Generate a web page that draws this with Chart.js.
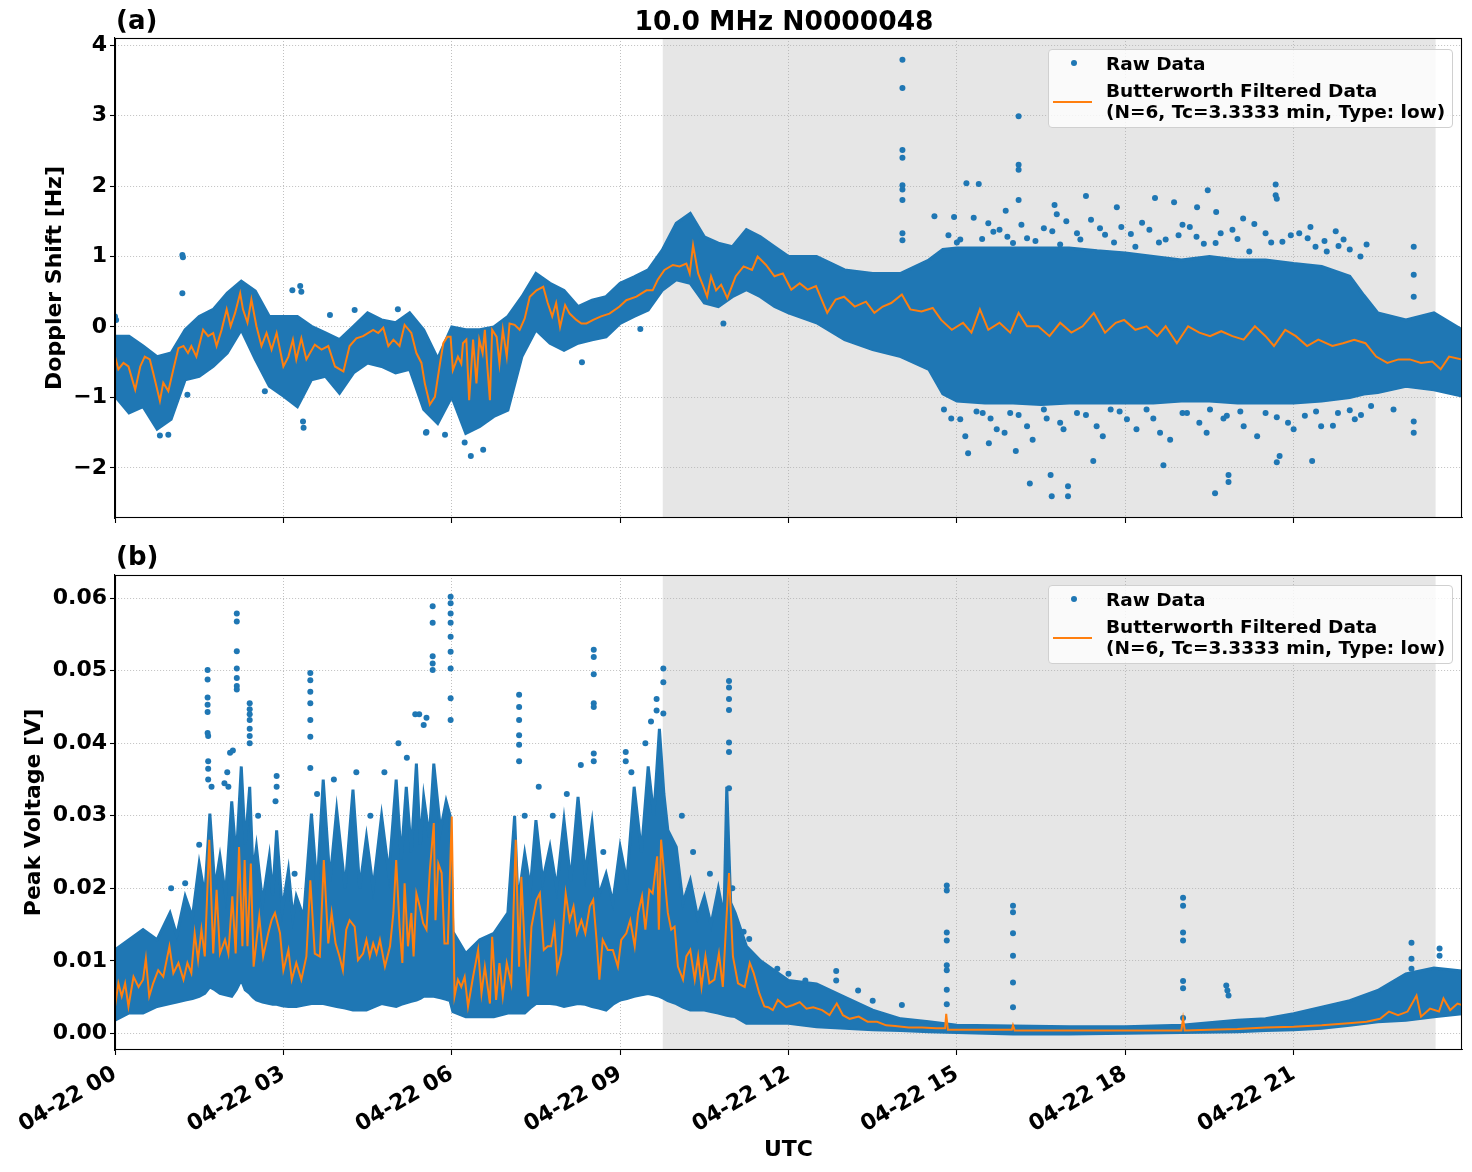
<!DOCTYPE html>
<html><head><meta charset="utf-8">
<script src="https://cdn.jsdelivr.net/npm/chart.js@4.4.1/dist/chart.umd.min.js"></script>
<style>
body{margin:0;background:#fff;width:1472px;height:1172px;position:relative;overflow:hidden;font-family:"DejaVu Sans",sans-serif;}
canvas{position:absolute;left:0;}
.txt{position:absolute;font-weight:bold;white-space:nowrap;color:#000;}
.legend{position:absolute;box-sizing:border-box;border:1px solid #d0d0d0;border-radius:4px;background:rgba(255,255,255,0.8);width:405px;height:79px;left:1048px;}
.legend .lt{position:absolute;left:57px;font-weight:bold;font-size:18.5px;line-height:21px;white-space:nowrap;color:#000;}
.legend .dot{position:absolute;left:22px;top:10px;width:6px;height:6px;border-radius:50%;background:#1f77b4;}
.legend .ln{position:absolute;left:4px;top:51px;width:39px;height:2px;background:#ff7f0e;}
</style></head>
<body>
<canvas id="c1" width="1472" height="540" style="top:0"></canvas>
<canvas id="c2" width="1472" height="632" style="top:540px"></canvas>
<div class="txt" style="left:116px;top:5px;font-size:26px;line-height:31px;">(a)</div>
<div class="txt" style="left:0;width:1568px;text-align:center;top:5px;font-size:26.5px;line-height:31px;">10.0 MHz N0000048</div>
<div class="txt" style="left:116px;top:541px;font-size:26px;line-height:31px;">(b)</div>
<div class="legend" style="top:49px"><div class="dot"></div><div class="lt" style="top:3px">Raw Data</div><div class="ln"></div><div class="lt" style="top:30px">Butterworth Filtered Data<br>(N=6, Tc=3.3333 min, Type: low)</div></div>
<div class="legend" style="top:585px"><div class="dot"></div><div class="lt" style="top:3px">Raw Data</div><div class="ln"></div><div class="lt" style="top:30px">Butterworth Filtered Data<br>(N=6, Tc=3.3333 min, Type: low)</div></div>
<script>
// ---- axis / ticks ----
const xTickVals = [0, 3, 6, 9, 12, 15, 18, 21];
const xTickLabels = ['04-22 00', '04-22 03', '04-22 06', '04-22 09', '04-22 12', '04-22 15', '04-22 18', '04-22 21'];
const dopYTicks = [-2, -1, 0, 1, 2, 3, 4];
const volYTicks = [0, 0.01, 0.02, 0.03, 0.04, 0.05, 0.06];
const shadeStart = 9.76, shadeEnd = 23.53; // hours UTC (shaded interval)

// ---- (a) Doppler shift: dense raw-data envelope (hours, Hz) ----
const dopEnvT = [0,0.25,0.5,0.75,1.0,1.25,1.5,1.75,2.0,2.25,2.5,2.75,3.0,3.25,3.5,3.75,4.0,4.25,4.5,4.75,5.0,5.25,5.5,5.75,6.0,6.25,6.5,6.75,7.0,7.25,7.5,7.75,8.0,8.25,8.5,8.75,9.0,9.25,9.5,9.75,10.0,10.25,10.5,10.75,11.0,11.25,11.5,11.75,12.0,12.5,13.0,13.5,14.0,14.5,14.75,15.0,15.5,16.0,16.5,17.0,17.5,18.0,18.5,19.0,19.5,20.0,20.5,21.0,21.5,22.0,22.25,22.5,23.0,23.5,24.0];
const dopEnvHigh = [-0.13,-0.13,-0.27,-0.42,-0.37,-0.04,0.15,0.25,0.48,0.65,0.51,0.15,0.15,0.15,0.01,-0.085,-0.18,0.01,0.2,0.1,0.06,0.2,-0.04,-0.45,0.0,-0.04,-0.04,0.0,0.15,0.43,0.76,0.62,0.52,0.29,0.38,0.43,0.62,0.71,0.81,1.09,1.47,1.61,1.28,1.19,1.14,1.38,1.28,1.14,1.0,1.0,0.81,0.76,0.76,0.95,1.1,1.12,1.12,1.12,1.12,1.12,1.08,1.05,1.0,0.95,1.0,0.95,0.95,0.9,0.86,0.72,0.45,0.2,0.1,0.2,-0.04];
const dopEnvLow = [-0.98,-1.22,-1.13,-1.45,-1.31,-0.75,-0.7,-0.56,-0.37,-0.04,-0.46,-0.84,-0.98,-1.13,-0.75,-0.7,-0.94,-0.65,-0.51,-0.56,-0.65,-0.6,-1.17,-1.37,-0.99,-1.51,-1.41,-1.27,-1.18,-0.42,-0.04,-0.23,-0.33,-0.23,-0.18,-0.14,0.05,0.15,0.24,0.52,0.67,0.62,0.34,0.29,0.43,0.53,0.43,0.29,0.2,0.06,-0.18,-0.32,-0.42,-0.6,-0.95,-1.05,-1.08,-1.08,-1.1,-1.08,-1.08,-1.08,-1.08,-1.05,-1.05,-1.08,-1.08,-1.08,-1.05,-1.0,-0.95,-0.93,-0.84,-0.89,-0.98];
// isolated raw points outside the dense band
const dopPtsT = [1.2,1.21,1.2,3.3,3.32,3.16,0.8,0.95,3.35,3.36,5.55,2.67,1.29,3.83,4.27,5.04,5.54,5.88,6.23,6.34,6.56,8.32,9.36,10.84,0.0,0.02,
 14.03,14.03,14.03,14.03,14.03,14.03,14.03,14.03,14.03,16.1,16.1,16.1,16.1,20.68,20.68,19.47,15.17,15.39,16.74,17.3,
 14.6,14.95,15.87,16.78,17.85,18.53,18.87,19.28,19.62,20.1,21.3,21.75,22.3,20.7,23.14,23.14,23.14,
 16.69,16.98,16.98,16.3,16.67,19.6,19.84,19.84,17.43,15.2,21.33,20.7,20.75,18.68,23.14,23.14,16.05,15.57,
 15.06,15.56,15.76,16.0,16.25,16.55,16.84,17.14,17.39,17.64,17.93,18.18,18.43,18.72,19.02,19.27,19.61,19.91,20.21,20.5,20.8,21.1,21.39,21.59,21.89,22.19,
 14.77,15.06,15.46,15.71,15.95,16.25,16.55,16.84,17.14,17.49,17.74,18.03,18.38,18.62,19.02,19.32,19.51,19.81,20.11,20.5,20.9,21.2,21.49,21.79,22.09,22.38,22.78,
 14.85,15.0,15.3,15.45,15.65,15.9,16.15,16.4,16.7,16.95,17.2,17.55,17.8,18.1,18.3,18.6,18.95,19.15,19.4,19.7,20.0,20.3,20.6,20.95,21.25,21.55,21.8,22.0,
 14.9,15.15,15.35,15.6,15.85,16.1,16.35,16.6,16.9,17.3,17.6,17.9,18.2,18.5,18.8,19.1,19.45,19.75,20.05,20.35,20.7,21.0,21.4,21.7,22.0,22.2];
const dopPtsV = [1.02,0.99,0.48,0.58,0.5,0.52,-1.54,-1.53,-1.34,-1.43,-1.49,-0.91,-0.96,0.17,0.24,0.25,-1.5,-1.53,-1.64,-1.83,-1.74,-0.5,-0.03,0.05,0.15,0.1,
 3.79,3.39,2.51,2.4,2.01,1.95,1.8,1.33,1.23,2.99,2.3,2.23,1.8,2.02,1.87,1.94,2.04,2.03,1.73,1.86,
 1.57,1.56,1.65,1.6,1.7,1.83,1.77,1.7,1.63,1.54,1.42,1.36,1.17,1.82,1.14,0.74,0.43,
 -2.4,-2.4,-2.26,-2.22,-2.1,-2.36,-2.1,-2.2,-1.9,-1.79,-1.9,-1.92,-1.83,-1.96,-1.5,-1.34,-1.76,-1.65,
 1.24,1.47,1.38,1.19,1.26,1.4,1.17,1.33,1.52,1.31,1.42,1.14,1.38,1.24,1.45,1.28,1.19,1.38,1.07,1.33,1.21,1.33,1.14,1.07,1.24,1.0,
 -1.17,-1.31,-1.22,-1.45,-1.22,-1.41,-1.17,-1.36,-1.22,-1.41,-1.17,-1.31,-1.17,-1.5,-1.22,-1.36,-1.17,-1.26,-1.41,-1.22,-1.36,-1.26,-1.41,-1.22,-1.31,-1.12,-1.17,
 1.3,1.2,1.55,1.25,1.35,1.28,1.45,1.22,1.36,1.5,1.24,1.4,1.2,1.32,1.48,1.2,1.3,1.42,1.18,1.33,1.25,1.46,1.2,1.3,1.26,1.22,1.15,1.1,
 -1.3,-1.55,-1.2,-1.3,-1.5,-1.25,-1.6,-1.3,-1.45,-1.25,-1.55,-1.2,-1.45,-1.3,-1.6,-1.22,-1.5,-1.3,-1.2,-1.55,-1.28,-1.45,-1.2,-1.4,-1.18,-1.25];
// Butterworth filtered Doppler (hours, Hz)
const dopFiltT = [0,0.06,0.15,0.24,0.36,0.45,0.53,0.62,0.68,0.8,0.86,0.95,1.04,1.13,1.22,1.3,1.36,1.45,1.57,1.66,1.75,1.81,1.9,1.99,2.06,2.14,2.23,2.28,2.36,2.43,2.52,2.61,2.7,2.79,2.88,3.0,3.09,3.17,3.23,3.32,3.41,3.56,3.68,3.8,3.92,4.07,4.18,4.3,4.42,4.6,4.69,4.78,4.87,4.96,5.07,5.16,5.28,5.37,5.46,5.52,5.61,5.7,5.79,5.85,5.92,5.98,6.02,6.11,6.17,6.2,6.26,6.31,6.38,6.44,6.49,6.55,6.59,6.63,6.68,6.72,6.8,6.85,6.91,6.98,7.03,7.12,7.21,7.3,7.39,7.51,7.63,7.71,7.79,7.86,7.93,8.02,8.1,8.22,8.31,8.4,8.52,8.66,8.81,8.99,9.11,9.29,9.47,9.58,9.67,9.79,9.94,10.06,10.18,10.24,10.3,10.39,10.47,10.55,10.62,10.71,10.8,10.91,11.06,11.2,11.35,11.45,11.6,11.75,11.9,12.05,12.2,12.34,12.49,12.69,12.84,12.99,13.18,13.38,13.53,13.68,13.83,14.02,14.17,14.37,14.57,14.72,14.91,15.11,15.26,15.41,15.56,15.76,15.95,16.1,16.25,16.45,16.65,16.84,17.04,17.24,17.44,17.64,17.83,17.98,18.18,18.38,18.57,18.72,18.92,19.12,19.32,19.51,19.71,19.91,20.11,20.31,20.5,20.65,20.85,21.04,21.24,21.44,21.69,21.88,22.08,22.28,22.47,22.67,22.87,23.07,23.27,23.47,23.62,23.77,24.0];
const dopFiltV = [-0.42,-0.6,-0.51,-0.56,-0.89,-0.56,-0.42,-0.46,-0.65,-1.05,-0.79,-0.91,-0.6,-0.3,-0.27,-0.37,-0.27,-0.42,-0.04,-0.13,-0.085,-0.27,-0.04,0.25,0.01,0.2,0.48,0.25,0.06,0.39,0.01,-0.27,-0.085,-0.32,-0.085,-0.56,-0.42,-0.18,-0.46,-0.16,-0.46,-0.25,-0.32,-0.27,-0.56,-0.63,-0.27,-0.16,-0.13,-0.04,-0.085,-0.01,-0.27,-0.18,-0.27,0.03,-0.085,-0.37,-0.51,-0.8,-1.1,-0.99,-0.52,-0.23,-0.14,-0.14,-0.61,-0.42,-0.52,-0.23,-0.18,-1.04,-0.18,-0.8,-0.18,-0.37,-0.04,-0.52,-1.04,-0.04,-0.14,-0.52,-0.04,-0.42,0.05,0.03,-0.04,0.12,0.43,0.52,0.57,0.34,0.15,0.34,0.0,0.31,0.19,0.1,0.05,0.05,0.1,0.15,0.19,0.29,0.38,0.43,0.52,0.52,0.67,0.81,0.88,0.86,0.9,0.76,1.16,0.76,0.6,0.43,0.72,0.52,0.6,0.41,0.72,0.86,0.81,1.0,0.88,0.72,0.76,0.53,0.62,0.53,0.58,0.2,0.39,0.43,0.29,0.36,0.2,0.29,0.34,0.46,0.25,0.22,0.27,0.1,-0.04,0.06,-0.08,0.25,-0.04,0.06,-0.08,0.2,0.01,0.01,-0.13,0.06,-0.08,0.01,0.2,-0.08,0.06,0.1,-0.04,0.01,-0.13,0.01,-0.23,0.01,-0.08,-0.13,-0.06,-0.13,-0.18,0.01,-0.13,-0.27,-0.04,-0.13,-0.27,-0.18,-0.27,-0.23,-0.18,-0.23,-0.42,-0.51,-0.46,-0.46,-0.51,-0.49,-0.6,-0.42,-0.46];

// ---- (b) Peak voltage: dense raw-data envelope (hours, V) ----
const volEnvT = [0,0.25,0.5,0.75,0.98,1.1,1.25,1.38,1.5,1.6,1.69,1.78,1.87,1.97,2.08,2.16,2.25,2.32,2.4,2.46,2.52,2.63,2.75,2.81,2.88,2.98,3.09,3.17,3.23,3.36,3.5,3.6,3.71,3.83,3.95,4.1,4.24,4.36,4.48,4.6,4.75,4.88,5.01,5.1,5.19,5.28,5.37,5.44,5.5,5.6,5.68,5.8,5.9,5.97,6.02,6.25,6.5,6.75,7.0,7.12,7.18,7.3,7.4,7.5,7.62,7.75,7.87,8.0,8.12,8.25,8.38,8.5,8.62,8.75,8.87,9.0,9.12,9.25,9.38,9.5,9.6,9.7,9.78,9.85,10.0,10.12,10.25,10.38,10.5,10.62,10.75,10.85,10.9,10.97,11.05,11.25,11.5,12.0,12.5,13.0,13.5,14.0,14.5,15.0,16.0,17.0,18.0,19.0,20.0,20.5,21.0,21.5,22.0,22.5,23.0,23.5,24.0];
const volEnvHigh = [0.0115,0.0129,0.0143,0.0129,0.0166,0.0135,0.0189,0.016,0.0234,0.019,0.0303,0.020,0.0244,0.019,0.032,0.024,0.0368,0.026,0.034,0.022,0.0257,0.018,0.0244,0.019,0.028,0.017,0.0225,0.016,0.0189,0.016,0.0303,0.020,0.035,0.021,0.0308,0.020,0.0336,0.020,0.0271,0.020,0.030,0.022,0.035,0.024,0.034,0.025,0.0372,0.026,0.0326,0.027,0.0372,0.028,0.032,0.030,0.014,0.011,0.0129,0.0138,0.0166,0.030,0.018,0.0248,0.020,0.0294,0.021,0.0257,0.020,0.0294,0.021,0.0326,0.022,0.029,0.019,0.022,0.018,0.0257,0.021,0.034,0.025,0.0368,0.030,0.042,0.033,0.028,0.0257,0.018,0.0211,0.016,0.0189,0.015,0.020,0.016,0.034,0.018,0.0166,0.012,0.010,0.0073,0.0068,0.005,0.0032,0.002,0.0016,0.0011,0.001,0.0009,0.0009,0.0011,0.0018,0.002,0.0027,0.0036,0.0045,0.0059,0.0082,0.009,0.0086];
const volEnvLow = [0.0018,0.0028,0.0028,0.0037,0.0041,0.0043,0.0046,0.0048,0.0051,0.0055,0.0064,0.006,0.0055,0.0053,0.0051,0.006,0.0074,0.006,0.0055,0.005,0.0046,0.0043,0.0041,0.004,0.004,0.0038,0.0037,0.0037,0.0037,0.0039,0.0041,0.0041,0.0041,0.0039,0.0037,0.0035,0.0032,0.0032,0.0032,0.0036,0.0041,0.0039,0.0037,0.004,0.0042,0.0044,0.0046,0.0048,0.0051,0.0051,0.0051,0.0049,0.0047,0.0045,0.003,0.0023,0.0023,0.0023,0.0028,0.0028,0.0028,0.0028,0.0035,0.0041,0.0041,0.0041,0.004,0.0037,0.0039,0.0041,0.004,0.0037,0.0035,0.0032,0.004,0.0046,0.0048,0.0051,0.0053,0.0055,0.0053,0.0051,0.0048,0.0045,0.0041,0.0036,0.0032,0.0032,0.0032,0.003,0.0028,0.0026,0.0025,0.0024,0.0023,0.0014,0.0014,0.0014,0.0009,0.0007,0.0005,0.0004,0.0002,0.0001,-0.0001,-0.0001,0.0,0.0001,0.0002,0.0004,0.0005,0.0007,0.0011,0.0016,0.0018,0.0023,0.0027];
// isolated raw points / streaks above the dense band
const volPtsT = [1.65,1.65,1.65,1.65,1.65,1.65,1.66,1.66,1.66,1.66, 2.17,2.17,2.17,2.17,2.17,2.17,2.17, 2.4,2.4,2.4,2.4,2.4,2.4,2.4, 2.05,2.1,2.0,1.95,
 3.48,3.48,3.48,3.48,3.48,3.48,3.48, 2.88,2.88,2.86, 5.66,5.66,5.66,5.66,5.66, 5.98,5.98,5.98,5.98,5.98,5.98,5.98,5.98,5.98, 5.42,5.5,5.55,
 7.2,7.2,7.2,7.2,7.2,7.2, 8.53,8.53,8.53,8.53,8.53,8.53,8.53, 9.77,9.77,9.77, 9.65,9.65, 9.1,9.1,
 10.94,10.94,10.94,10.94,10.94,10.94,10.94, 14.82,14.82,14.82,14.82,14.82,14.82,14.82,14.82, 16.0,16.0,16.0,16.0,16.0,16.0,
 19.03,19.03,19.03,19.03,19.03,19.03,19.03, 19.8,19.82,19.84, 23.1,23.1,23.1, 23.6,23.6,
 11.8,12.0,12.3,12.85,12.85,13.24,14.02,13.5,11.2,11.3,
 1.0,1.25,1.5,1.72,2.02,2.55,3.2,3.6,3.9,4.3,4.55,4.8,5.05,5.2,5.35,7.3,7.55,7.8,8.05,8.3,8.7,9.2,9.45,9.55,10.1,10.3,10.6,11.0];
const volPtsV = [0.0501,0.0488,0.0463,0.0453,0.0443,0.0414,0.041,0.0375,0.0365,0.035, 0.0579,0.0568,0.0527,0.0503,0.049,0.0479,0.0474, 0.0455,0.0447,0.044,0.0432,0.042,0.041,0.040, 0.0387,0.039,0.036,0.0345,
 0.0497,0.0487,0.0471,0.0455,0.0432,0.0409,0.0366, 0.0355,0.034,0.032, 0.0589,0.0566,0.052,0.051,0.0501, 0.0602,0.0593,0.0579,0.0566,0.0547,0.0526,0.0503,0.0462,0.0432, 0.044,0.0425,0.0435,
 0.0467,0.045,0.0432,0.0411,0.0398,0.0375, 0.0529,0.0519,0.0495,0.0455,0.045,0.0386,0.0375, 0.0503,0.0484,0.0441, 0.0461,0.0445, 0.0388,0.0375,
 0.0486,0.0477,0.0461,0.0446,0.0401,0.0388,0.0338, 0.0204,0.0197,0.0139,0.0128,0.0094,0.0087,0.006,0.004, 0.0176,0.0167,0.0138,0.0107,0.007,0.0036,
 0.0187,0.0176,0.0139,0.0128,0.0072,0.0062,0.0021, 0.0066,0.0059,0.0052, 0.0125,0.0103,0.0089, 0.0117,0.0107,
 0.0089,0.0082,0.0073,0.0086,0.0073,0.0059,0.0039,0.0045,0.014,0.013,
 0.020,0.0207,0.026,0.034,0.034,0.030,0.022,0.033,0.035,0.036,0.030,0.036,0.040,0.038,0.044,0.030,0.034,0.030,0.033,0.037,0.025,0.036,0.040,0.043,0.030,0.025,0.022,0.020];
const volFiltT = [0,0.06,0.12,0.18,0.24,0.33,0.42,0.5,0.55,0.61,0.68,0.77,0.86,0.97,1.04,1.13,1.22,1.29,1.36,1.42,1.48,1.54,1.6,1.68,1.75,1.81,1.87,1.96,2.02,2.09,2.15,2.21,2.27,2.31,2.36,2.42,2.47,2.57,2.64,2.73,2.79,2.85,2.94,3.0,3.09,3.15,3.23,3.32,3.41,3.48,3.56,3.65,3.72,3.8,3.86,3.93,4.0,4.06,4.12,4.18,4.27,4.33,4.42,4.48,4.54,4.6,4.66,4.72,4.81,4.9,4.96,5.01,5.07,5.12,5.16,5.22,5.28,5.32,5.37,5.43,5.49,5.55,5.61,5.68,5.71,5.76,5.82,5.87,5.93,6.0,6.05,6.11,6.17,6.23,6.29,6.38,6.47,6.53,6.59,6.68,6.72,6.79,6.85,6.91,6.98,7.06,7.14,7.2,7.24,7.3,7.36,7.42,7.51,7.57,7.64,7.71,7.77,7.83,7.88,7.95,8.03,8.1,8.17,8.23,8.31,8.38,8.46,8.52,8.58,8.63,8.69,8.78,8.87,8.96,9.02,9.11,9.18,9.26,9.32,9.39,9.45,9.52,9.58,9.66,9.69,9.73,9.79,9.85,9.91,9.97,10.03,10.12,10.18,10.25,10.33,10.39,10.45,10.52,10.59,10.68,10.76,10.83,10.89,10.94,11.01,11.1,11.22,11.31,11.38,11.48,11.57,11.64,11.72,11.81,11.96,12.08,12.2,12.32,12.44,12.6,12.73,12.86,12.97,13.09,13.25,13.41,13.58,13.74,13.9,14.14,14.38,14.63,14.79,14.81,14.84,15.1,15.51,15.98,16.0,16.03,17.0,18.0,19.0,19.03,19.06,19.5,20.0,20.5,21.0,21.5,21.98,22.3,22.54,22.7,22.86,23.03,23.19,23.27,23.43,23.59,23.67,23.79,23.92,24.0];
const volFiltV = [0.0037,0.0069,0.0051,0.0069,0.0037,0.0078,0.0064,0.0074,0.0103,0.0051,0.0069,0.0087,0.0078,0.012,0.0083,0.0097,0.0074,0.0097,0.0083,0.0138,0.0101,0.0143,0.0106,0.0267,0.011,0.0198,0.011,0.0129,0.011,0.0189,0.011,0.0257,0.012,0.0239,0.012,0.0234,0.0092,0.0161,0.0106,0.0138,0.0156,0.0166,0.0138,0.0087,0.0115,0.0074,0.0097,0.0074,0.0106,0.0211,0.011,0.0106,0.0239,0.0124,0.0166,0.0124,0.0106,0.0087,0.0143,0.0156,0.0147,0.0101,0.011,0.0129,0.0106,0.0124,0.011,0.0129,0.0092,0.012,0.0166,0.0239,0.0147,0.0097,0.0207,0.012,0.0166,0.0106,0.0193,0.0175,0.0152,0.0143,0.0225,0.029,0.0156,0.0234,0.0221,0.0124,0.0124,0.0299,0.0051,0.0074,0.0064,0.0078,0.0037,0.0078,0.0115,0.0055,0.0092,0.0041,0.0133,0.0046,0.0097,0.0051,0.0097,0.0069,0.0267,0.0092,0.0216,0.012,0.0051,0.0147,0.0184,0.0193,0.0115,0.012,0.012,0.0147,0.0087,0.011,0.0193,0.0156,0.0175,0.0138,0.0156,0.0138,0.0175,0.0184,0.0129,0.0074,0.0129,0.0115,0.0115,0.0092,0.0129,0.0138,0.0156,0.012,0.0166,0.0189,0.0143,0.0198,0.0193,0.0244,0.0143,0.0267,0.0216,0.0166,0.0143,0.0147,0.0092,0.0074,0.0106,0.0115,0.0074,0.0106,0.0064,0.0106,0.0069,0.0074,0.011,0.0064,0.0152,0.0221,0.0106,0.0069,0.0064,0.0097,0.0083,0.0055,0.0037,0.0036,0.0032,0.0046,0.0036,0.0039,0.0043,0.0034,0.0036,0.0032,0.0025,0.0041,0.0025,0.002,0.0023,0.0016,0.0016,0.0011,0.001,0.0008,0.0008,0.0007,0.0007,0.0027,0.0005,0.0005,0.0005,0.0005,0.0011,0.0004,0.0004,0.0004,0.0004,0.002,0.0004,0.0005,0.0006,0.0008,0.0009,0.0011,0.0014,0.0016,0.002,0.003,0.0025,0.003,0.0052,0.0023,0.0034,0.003,0.0048,0.0032,0.0041,0.0039];

// ---- helpers ----
const BLUE = '#1f77b4', ORANGE = '#ff7f0e';
const zip = (t, v) => t.map((x, i) => ({x: x, y: v[i]}));
const tickFont = {family: '"DejaVu Sans"', size: 22, weight: 'bold'};
const labelFont = {family: '"DejaVu Sans"', size: 22, weight: 'bold'};

const shadePlugin = {
  id: 'shade',
  beforeDraw(chart) {
    const {ctx, chartArea: a, scales: {x}} = chart;
    const x0 = x.getPixelForValue(shadeStart), x1 = x.getPixelForValue(shadeEnd);
    ctx.save();
    ctx.fillStyle = 'rgba(128,128,128,0.2)';
    ctx.fillRect(x0, a.top, x1 - x0, a.bottom - a.top);
    ctx.restore();
  }
};
const framePlugin = {
  id: 'frame',
  afterDraw(chart) {
    const {ctx, chartArea: a} = chart;
    ctx.save();
    ctx.strokeStyle = '#000';
    ctx.lineWidth = 1.1;
    ctx.strokeRect(Math.round(a.left) + 0.5, Math.round(a.top) + 0.5, Math.round(a.right - a.left) - 1, Math.round(a.bottom - a.top) - 1);
    ctx.restore();
  }
};

function gridOpts() {
  return {color: '#b0b0b0', lineWidth: 0.8, tickColor: '#000', tickLength: 5, tickWidth: 1.1, drawTicks: true};
}

function makeChart(canvasId, env, pts, filt, yCfg, showX, padTop) {
  return new Chart(document.getElementById(canvasId), {
    type: 'line',
    data: {
      datasets: [
        {label: 'Butterworth Filtered Data', data: filt, borderColor: ORANGE, borderWidth: 2, pointRadius: 0, fill: false, tension: 0, order: 0},
        {label: 'Raw Data', type: 'scatter', data: pts, backgroundColor: BLUE, borderWidth: 0, pointRadius: 3, order: 1},
        {label: 'Raw Data (upper)', data: env[0], borderColor: BLUE, backgroundColor: BLUE, borderWidth: 3, pointRadius: 0, fill: '+1', tension: 0, order: 2},
        {label: 'Raw Data (lower)', data: env[1], borderColor: BLUE, backgroundColor: BLUE, borderWidth: 3, pointRadius: 0, fill: false, tension: 0, order: 3}
      ]
    },
    options: {
      responsive: false, animation: false, devicePixelRatio: 1,
      layout: {padding: {top: padTop, right: 10, left: 0, bottom: 0}},
      plugins: {legend: {display: false}, tooltip: {enabled: false}, title: {display: false}},
      scales: {
        x: {
          type: 'linear', min: 0, max: 24,
          afterBuildTicks: s => { s.ticks = xTickVals.map(v => ({value: v})); },
          afterFit: s => { s.height = showX ? 122 : 22; },
          ticks: {display: showX, font: tickFont, color: '#000', padding: 6, minRotation: 30, maxRotation: 30, autoSkip: false,
                  callback: v => xTickLabels[xTickVals.indexOf(v)]},
          grid: gridOpts(),
          border: {display: true, color: '#000', width: 1.1, dash: [1, 2]},
          title: {display: showX, text: 'UTC', font: labelFont, color: '#000', padding: {top: 0, bottom: 9}}
        },
        y: Object.assign({
          type: 'linear',
          afterFit: s => { s.width = 115; },
          grid: gridOpts(),
          border: {display: true, color: '#000', width: 1.1, dash: [1, 2]}
        }, yCfg)
      }
    },
    plugins: [shadePlugin, framePlugin]
  });
}

makeChart('c1',
  [zip(dopEnvT, dopEnvHigh), zip(dopEnvT, dopEnvLow)],
  zip(dopPtsT, dopPtsV),
  zip(dopFiltT, dopFiltV),
  {min: -2.71, max: 4.1,
   afterBuildTicks: s => { s.ticks = dopYTicks.map(v => ({value: v})); },
   ticks: {font: tickFont, color: '#000', padding: 3, callback: v => String(v).replace('-', '\u2212')},
   title: {display: true, text: 'Doppler Shift [Hz]', font: labelFont, color: '#000', padding: {top: 42, bottom: 0}}},
  false, 38);

makeChart('c2',
  [zip(volEnvT, volEnvHigh), zip(volEnvT, volEnvLow)],
  zip(volPtsT, volPtsV),
  zip(volFiltT, volFiltV),
  {min: -0.0023, max: 0.0632,
   afterBuildTicks: s => { s.ticks = volYTicks.map(v => ({value: v})); },
   ticks: {font: tickFont, color: '#000', padding: 3, callback: v => v.toFixed(2)},
   title: {display: true, text: 'Peak Voltage [V]', font: labelFont, color: '#000', padding: {top: 21, bottom: 0}}},
  true, 35);
</script>
</body></html>
